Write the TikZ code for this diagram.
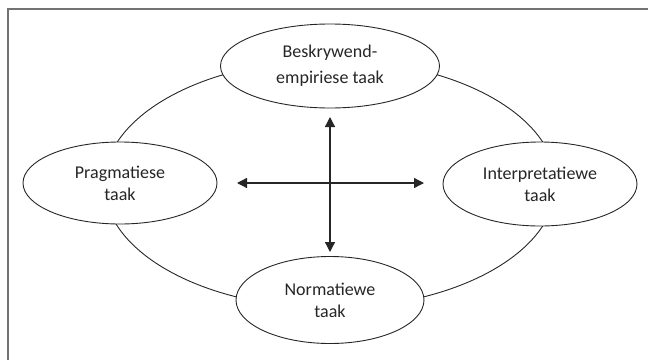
\documentclass[tikz,border=0pt]{standalone}
\usepackage{fontspec}
\setmainfont{Carlito}
\usetikzlibrary{shapes.geometric,arrows.meta}
\begin{document}
\begin{tikzpicture}[x=1pt,y=-1pt,
  task/.style={ellipse,draw=black!85,line width=0.9pt,fill=white,inner sep=0pt,
    align=center,text=black!85,font=\fontsize{18}{22}\selectfont},
  ring/.style={ellipse,draw=black!85,line width=0.9pt,inner sep=0pt,
    minimum width=452pt,minimum height=248pt},
  dbl/.style={line width=1.3pt,draw=black!85,
    {Triangle[length=10pt,width=10pt]}-{Triangle[length=10pt,width=10pt]}},
  frameline/.style={draw=black!55,line width=1.6pt}]
\useasboundingbox (0,0) rectangle (648,359);
\draw[frameline] (8,360) -- (8,9) -- (649,9);
\node[ring] (ring) at (330,184) {};
\node[task,minimum width=219pt,minimum height=84pt] (top) at (330,66)
  {Beskrywend-\\[4pt]empiriese taak};
\node[task,minimum width=194pt,minimum height=82pt] (left) at (120,183)
  {Pragmatiese\\taak};
\node[task,minimum width=194pt,minimum height=84pt] (right) at (540,184)
  {Interpretatiewe\\taak};
\node[task,minimum width=188pt,minimum height=87pt] (bottom) at (330,300)
  {Normatiewe\\taak};
\coordinate (vt) at (330,117);
\coordinate (vb) at (330,252);
\coordinate (hl) at (237,183);
\coordinate (hr) at (424,183);
\draw[dbl] (vt) -- (vb);
\draw[dbl] (hl) -- (hr);
\end{tikzpicture}
\end{document}
